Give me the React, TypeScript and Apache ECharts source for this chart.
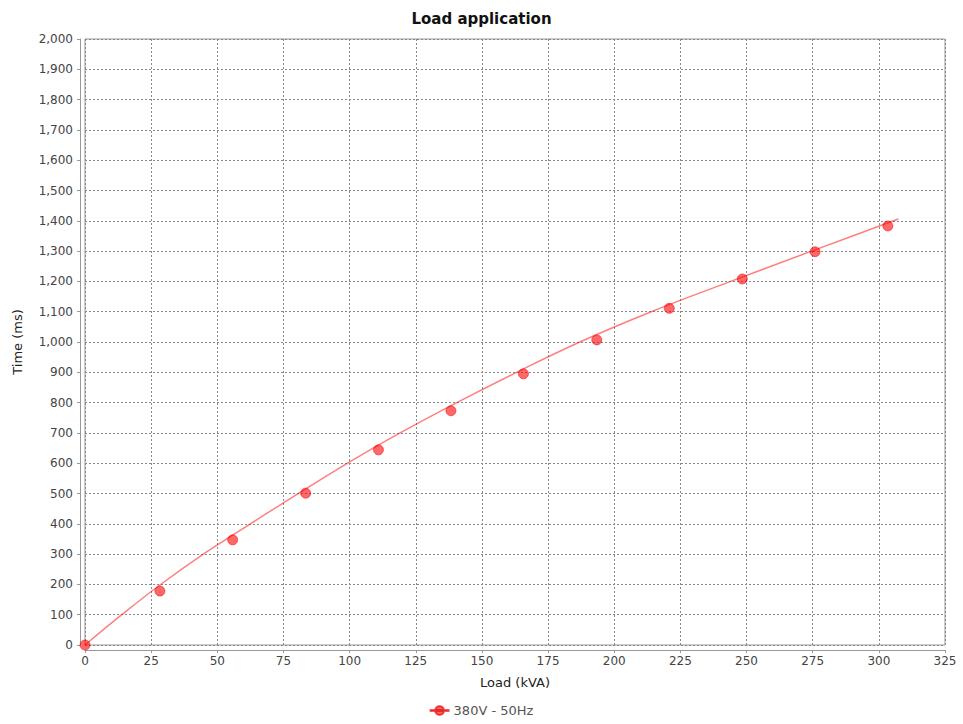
import React, { useEffect, useRef } from "react";
import * as echarts from "echarts";

// Measured points
const loadKVA = [0, 28.3, 55.8, 83.4, 110.9, 138.3, 165.7, 193.4, 220.8, 248.4, 275.9, 303.4];
const timeMs = [0, 178, 347, 501, 644, 773, 895, 1007, 1111, 1208, 1298, 1383];

// Fitted curve
const curveX = [0, 13.9, 28.3, 44.7, 58.6, 73.7, 100.2, 119.1, 140.5, 163.1, 187, 214, 244, 274.6, 305.5, 307.4];
const curveY = [0, 100, 198, 300, 378, 462, 605, 700, 800, 900, 1000, 1100, 1200, 1300, 1400, 1406];

const seriesName = "380V - 50Hz";
const chartTitle = "Load application";
const xName = "Load (kVA)";
const yName = "Time (ms)";

const FONT = "DejaVu Sans";

export default function App() {
  const ref = useRef<HTMLDivElement>(null);

  useEffect(() => {
    if (!ref.current) return;
    const chart = echarts.init(ref.current, undefined, { renderer: "svg" });
    const points = loadKVA.map((x, i) => [x, timeMs[i]]);
    const curve = curveX.map((x, i) => [x, curveY[i]]);
    const labelStyle = { color: "#444", fontFamily: FONT, fontSize: 12 };
    chart.setOption({
      animation: false,
      backgroundColor: "#fff",
      title: {
        text: chartTitle,
        left: "center",
        top: 6,
        textStyle: { fontFamily: FONT, fontSize: 15, fontWeight: "bold", color: "#111" },
      },
      grid: {
        left: 85,
        right: 18,
        top: 39,
        bottom: 79,
        show: true,
        borderColor: "#999",
        borderWidth: 1,
        backgroundColor: "#fff",
      },
      legend: {
        bottom: 2,
        left: "center",
        itemWidth: 18,
        itemHeight: 10,
        itemGap: 6,
        textStyle: { color: "#555", fontFamily: FONT, fontSize: 13 },
        data: [
          {
            name: seriesName,
            icon: "path://M0,4.4 L18,4.4 L18,5.6 L0,5.6 Z M9,0.5 A4.5,4.5 0 1,1 8.99,0.5 Z",
          },
        ],
      },
      xAxis: {
        type: "value",
        min: 0,
        max: 325,
        interval: 25,
        offset: 5,
        name: xName,
        nameLocation: "middle",
        nameGap: 26,
        nameTextStyle: { color: "#222", fontFamily: FONT, fontSize: 13 },
        axisLine: { show: true, onZero: false, lineStyle: { color: "#999" } },
        axisTick: { show: true, length: 3, lineStyle: { color: "#999" } },
        axisLabel: { ...labelStyle, margin: 5 },
        splitLine: { show: true, lineStyle: { color: "#888", type: [2, 2], width: 1 } },
      },
      yAxis: {
        type: "value",
        min: 0,
        max: 2000,
        interval: 100,
        offset: 5,
        name: yName,
        nameLocation: "middle",
        nameRotate: 90,
        nameGap: 56,
        nameTextStyle: { color: "#222", fontFamily: FONT, fontSize: 13 },
        axisLine: { show: true, onZero: false, lineStyle: { color: "#999" } },
        axisTick: { show: true, length: 3, lineStyle: { color: "#999" } },
        axisLabel: {
          ...labelStyle,
          margin: 7,
          formatter: (v: number) => v.toLocaleString("en-US"),
        },
        splitLine: { show: true, lineStyle: { color: "#888", type: [2, 2], width: 1 } },
      },
      series: [
        {
          name: "fit",
          type: "line",
          data: curve,
          showSymbol: false,
          smooth: 0.4,
          silent: true,
          z: 2,
          lineStyle: { color: "rgba(255,0,0,0.5)", width: 1.5 },
          itemStyle: { color: "rgba(255,0,0,0.5)" },
        },
        {
          name: seriesName,
          type: "scatter",
          data: points,
          symbol: "circle",
          symbolSize: 10,
          z: 3,
          itemStyle: { color: "rgba(255,0,0,0.74)", borderColor: "rgba(230,0,0,0.8)", borderWidth: 0.8 },
        },
      ],
    });
    return () => chart.dispose();
  }, []);

  return (
    <div
      ref={ref}
      style={{ position: "absolute", left: 0, top: 0, width: 963, height: 724 }}
    />
  );
}
